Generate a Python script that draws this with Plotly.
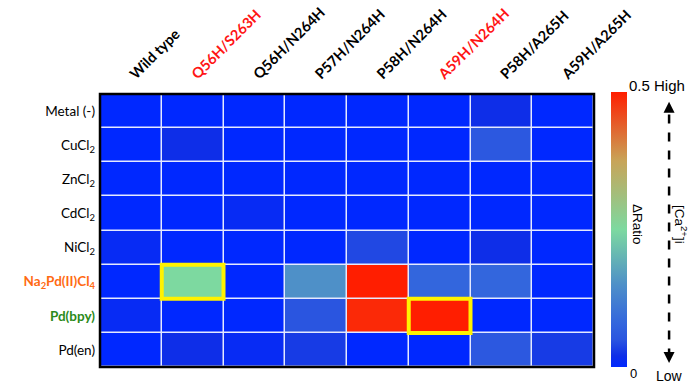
import plotly.graph_objects as go

# Mutant panel (columns) and metal treatments (rows)
mutants = ["Wild type", "Q56H/S263H", "Q56H/N264H", "P57H/N264H",
           "P58H/N264H", "A59H/N264H", "P58H/A265H", "A59H/A265H"]
highlighted_mutants = ["Q56H/S263H", "A59H/N264H"]

metals = ["Metal (-)", "CuCl<sub>2</sub>", "ZnCl<sub>2</sub>", "CdCl<sub>2</sub>",
          "NiCl<sub>2</sub>", "Na<sub>2</sub>Pd(II)Cl<sub>4</sub>", "Pd(bpy)", "Pd(en)"]
metal_colors = ["#000000", "#000000", "#000000", "#000000",
                "#000000", "#ff6a13", "#2a8a1a", "#000000"]
metal_bold = [False, False, False, False, False, True, True, False]

# ΔRatio per metal (row) and mutant (column)
delta_ratio = [
    [0.00, 0.00, 0.00, 0.00, 0.00, 0.00, 0.02, 0.00],   # Metal (-)
    [0.00, 0.02, 0.00, 0.00, 0.00, 0.00, 0.055, 0.00],  # CuCl2
    [0.00, 0.00, 0.00, 0.00, 0.00, 0.00, 0.00, 0.00],   # ZnCl2
    [0.00, 0.00, 0.01, 0.00, 0.00, 0.00, 0.00, 0.00],   # CdCl2
    [0.01, 0.00, 0.00, 0.00, 0.04, 0.00, 0.02, 0.00],   # NiCl2
    [0.00, 0.25, 0.00, 0.15, 0.50, 0.08, 0.08, 0.00],   # Na2Pd(II)Cl4
    [0.01, 0.00, 0.00, 0.05, 0.49, 0.50, 0.00, 0.00],   # Pd(bpy)
    [0.00, 0.02, 0.01, 0.03, 0.00, 0.00, 0.055, 0.03],  # Pd(en)
]
z_min, z_max = 0.0, 0.5

# Hits outlined in yellow: (metal index, mutant index)
boxed_cells = [(5, 1), (6, 5)]

colorscale = [
    [0.00, "#0028ff"],
    [0.04, "#0e2ee8"],
    [0.10, "#2a55e0"],
    [0.16, "#3366dd"],
    [0.30, "#4e90c8"],
    [0.50, "#7dd9a0"],
    [0.75, "#c8a458"],
    [1.00, "#ff1e00"],
]

col_text = []
for m in mutants:
    if m in highlighted_mutants:
        col_text.append(f"<b><span style='color:#ff1414'>{m}</span></b>")
    else:
        col_text.append(f"<b>{m}</b>")

row_text = []
for name, c, b in zip(metals, metal_colors, metal_bold):
    t = f"<span style='color:{c}'>{name}</span>"
    row_text.append(f"<b>{t}</b>" if b else t)

fig = go.Figure(go.Heatmap(
    z=delta_ratio,
    x=list(range(len(mutants))),
    y=list(range(len(metals))),
    zmin=z_min, zmax=z_max,
    colorscale=colorscale,
    xgap=1.5, ygap=1.5,
    colorbar=dict(
        x=1.034, xanchor="left", xref="paper",
        y=0.503, yanchor="middle", len=1.007, lenmode="fraction",
        thickness=16, outlinewidth=0, ypad=0, xpad=0,
        showticklabels=False, ticks="",
    ),
))

shapes = [
    dict(type="rect", xref="paper", yref="paper", x0=0, x1=1, y0=0, y1=1,
         line=dict(color="black", width=2.5), layer="above"),
]
for r, c in boxed_cells:
    shapes.append(dict(type="rect", xref="x", yref="y",
                       x0=c - 0.5, x1=c + 0.5, y0=r - 0.5, y1=r + 0.5,
                       line=dict(color="#fff200", width=4), layer="above"))

# Dashed [Ca2+]i axis beside the colour bar
axis_x = 1.152
shapes.append(dict(type="line", xref="paper", yref="paper",
                   x0=axis_x, x1=axis_x, y0=0.035, y1=0.95,
                   line=dict(color="black", width=2.5, dash="dash")))

annotations = [
    dict(text="0.5 High", xref="paper", yref="paper", x=1.066, y=0.992,
         xanchor="left", yanchor="bottom", showarrow=False,
         font=dict(family="Liberation Sans", size=15, color="black")),
    dict(text="0", xref="paper", yref="paper", x=1.08, y=0.012,
         xanchor="center", yanchor="top", showarrow=False,
         font=dict(family="Liberation Sans", size=13, color="black")),
    dict(text="Low", xref="paper", yref="paper", x=axis_x, y=0.005,
         xanchor="center", yanchor="top", showarrow=False,
         font=dict(family="Liberation Sans", size=14, color="black")),
    dict(text="ΔRatio", xref="paper", yref="paper", x=1.089, y=0.52,
         xanchor="center", yanchor="middle", showarrow=False, textangle=90,
         font=dict(family="Liberation Sans", size=13.5, color="black")),
    dict(text="[Ca<sup>2+</sup>]i", xref="paper", yref="paper", x=1.176, y=0.52,
         xanchor="center", yanchor="middle", showarrow=False, textangle=90,
         font=dict(family="Liberation Sans", size=13.5, color="black")),
    # arrow heads on the dashed axis
    dict(text="", xref="paper", yref="paper", x=axis_x, y=0.972,
         ax=0, ay=10, axref="pixel", ayref="pixel",
         showarrow=True, arrowhead=2, arrowsize=1.1, arrowwidth=2, arrowcolor="black"),
    dict(text="", xref="paper", yref="paper", x=axis_x, y=0.015,
         ax=0, ay=-10, axref="pixel", ayref="pixel",
         showarrow=True, arrowhead=2, arrowsize=1.1, arrowwidth=2, arrowcolor="black"),
]

fig.update_layout(
    width=694, height=383,
    margin=dict(l=100, r=100, t=94, b=16, autoexpand=False),
    paper_bgcolor="white",
    plot_bgcolor="#e4e9ff",
    font=dict(family="Lato", size=13, color="black"),
    shapes=shapes,
    annotations=annotations,
    xaxis=dict(side="top", tickmode="array", tickvals=list(range(len(mutants))),
               ticktext=col_text, tickangle=-45, ticks="", showgrid=False,
               zeroline=False, range=[-0.5, len(mutants) - 0.5],
               ticklabelstandoff=8, automargin=False,
               tickfont=dict(family="Lato", size=14.5, color="black")),
    yaxis=dict(tickmode="array", tickvals=list(range(len(metals))),
               ticktext=row_text, ticks="", showgrid=False, zeroline=False,
               range=[len(metals) - 0.5, -0.5], ticklabelstandoff=4,
               automargin=False,
               tickfont=dict(family="Lato", size=13.5, color="black")),
)

fig.write_html("out.html")
